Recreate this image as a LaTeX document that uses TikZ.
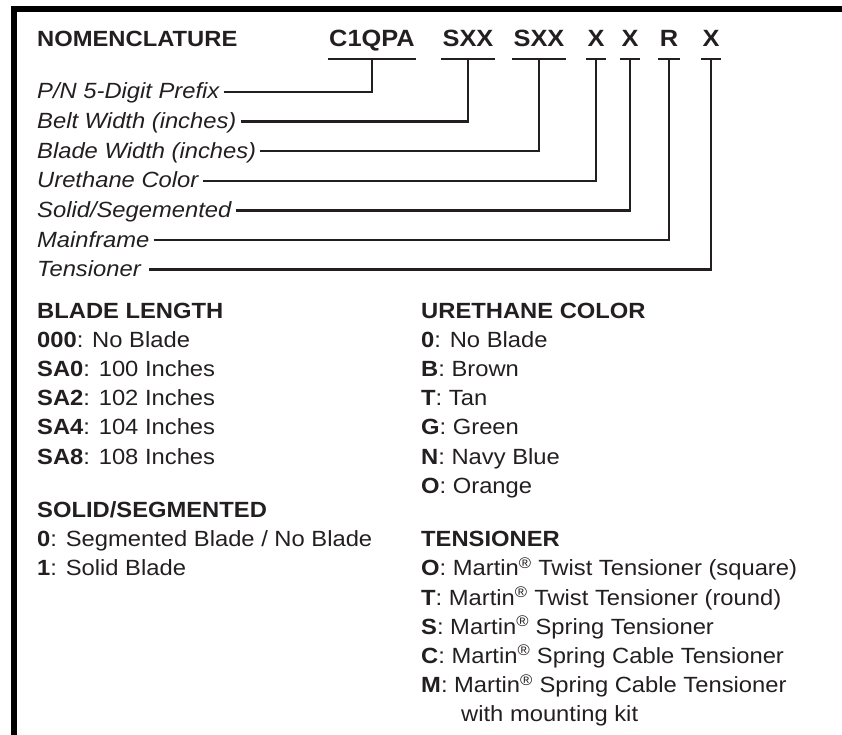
\documentclass[tikz,border=0pt]{standalone}
\usepackage{fontspec}
\setmainfont{Liberation Sans}[FakeStretch=1.08]
\usepackage{tikz}
\usetikzlibrary{positioning}
\definecolor{ink}{HTML}{231F20}
\newcommand{\regmark}{\textsuperscript{\textregistered}}
\newcommand{\bodyfont}{\fontsize{22}{29}\selectfont}

\begin{document}
\begin{tikzpicture}[
x=1pt,y=-1pt,
node distance=8.8pt and 0pt,
  every node/.style={text=ink,font=\bodyfont},
  item/.style={inner sep=0pt,text height=15.5pt,text depth=4.5pt},
  head/.style={item,font=\bodyfont\bfseries},
  code/.style={font=\fontsize{23.5}{29}\selectfont\bfseries,inner xsep=1.5pt,inner ysep=0pt,anchor=base},
  lbl/.style={item,inner xsep=4pt,font=\bodyfont\itshape},
  bar/.style={draw=ink,line width=2.6pt},
  lead/.style={draw=ink,line width=2.3pt}
]
\useasboundingbox (0,0) rectangle (842,735);
\draw[line width=6pt] (14,735) -- (14,9) -- (842,9);

% part number
\node[head,anchor=base west] (nom) at (37,47) {NOMENCLATURE};
\node[code] (c1) at (372,47) {C1QPA};
\node[code] (c2) at (468,47) {SXX};
\node[code] (c3) at (539,47) {SXX};
\node[code] (c4) at (596,47) {X};
\node[code] (c5) at (630,47) {X};
\node[code] (c6) at (669,47) {R};
\node[code] (c7) at (711,47) {X};
\foreach \c in {c1,c2,c3,c4,c5,c6,c7}
  \draw[bar] ([yshift=-12pt]\c.base west) -- ([yshift=-12pt]\c.base east);

% labels
\node[lbl,anchor=base west] (pn) at (33,99) {P/N 5-Digit Prefix};
\node[lbl,below=9.2pt of pn.south west,anchor=north west] (belt) {Belt Width (inches)};
\node[lbl,below=9.2pt of belt.south west,anchor=north west] (blade) {Blade Width (inches)};
\node[lbl,below=9.2pt of blade.south west,anchor=north west] (color) {Urethane Color};
\node[lbl,below=9.2pt of color.south west,anchor=north west] (seg) {Solid/Segemented};
\node[lbl,below=9.2pt of seg.south west,anchor=north west] (frame) {Mainframe};
\node[lbl,below=9.2pt of frame.south west,anchor=north west] (tens) {Tensioner};
\draw[lead] ([yshift=7pt]pn.base east) -| ([yshift=-12pt]c1.base);
\draw[lead] ([yshift=7pt]belt.base east) -| ([yshift=-12pt]c2.base);
\draw[lead] ([yshift=7pt]blade.base east) -| ([yshift=-12pt]c3.base);
\draw[lead] ([yshift=7pt]color.base east) -| ([yshift=-12pt]c4.base);
\draw[lead] ([yshift=7pt]seg.base east) -| ([yshift=-12pt]c5.base);
\draw[lead] ([yshift=7pt]frame.base east) -| ([yshift=-12pt]c6.base);
\draw[lead] ([xshift=4pt,yshift=7pt]tens.base east) -| ([yshift=-12pt]c7.base);

% left column
\node[head,anchor=base west] (blen) at (37,318) {BLADE LENGTH};
\node[item,below=of blen.south west,anchor=north west] (bl0) {\textbf{000}: No Blade};
\node[item,below=of bl0.south west,anchor=north west] (sa0) {\textbf{SA0}: 100 Inches};
\node[item,below=of sa0.south west,anchor=north west] (sa2) {\textbf{SA2}: 102 Inches};
\node[item,below=of sa2.south west,anchor=north west] (sa4) {\textbf{SA4}: 104 Inches};
\node[item,below=of sa4.south west,anchor=north west] (sa8) {\textbf{SA8}: 108 Inches};
\node[head,below=33pt of sa8.south west,anchor=north west] (solid) {SOLID/SEGMENTED};
\node[item,below=of solid.south west,anchor=north west] (sd0) {\textbf{0}: Segmented Blade / No Blade};
\node[item,below=of sd0.south west,anchor=north west] (sd1) {\textbf{1}: Solid Blade};

% right column
\node[head,anchor=base west] (ucol) at (421,318) {URETHANE COLOR};
\node[item,below=of ucol.south west,anchor=north west] (u0) {\textbf{0}: No Blade};
\node[item,below=of u0.south west,anchor=north west] (ub) {\textbf{B}: Brown};
\node[item,below=of ub.south west,anchor=north west] (ut) {\textbf{T}: Tan};
\node[item,below=of ut.south west,anchor=north west] (ug) {\textbf{G}: Green};
\node[item,below=of ug.south west,anchor=north west] (un) {\textbf{N}: Navy Blue};
\node[item,below=of un.south west,anchor=north west] (uo) {\textbf{O}: Orange};
\node[head,below=33pt of uo.south west,anchor=north west] (tn) {TENSIONER};
\node[item,below=of tn.south west,anchor=north west] (to) {\textbf{O}: Martin\regmark{} Twist Tensioner (square)};
\node[item,below=of to.south west,anchor=north west] (tt) {\textbf{T}: Martin\regmark{} Twist Tensioner (round)};
\node[item,below=of tt.south west,anchor=north west] (ts) {\textbf{S}: Martin\regmark{} Spring Tensioner};
\node[item,below=of ts.south west,anchor=north west] (tc) {\textbf{C}: Martin\regmark{} Spring Cable Tensioner};
\node[item,below=of tc.south west,anchor=north west] (tm) {\textbf{M}: Martin\regmark{} Spring Cable Tensioner};
\node[item,below=of tm.south west,anchor=north west,xshift=40pt] (kit) {with mounting kit};
\end{tikzpicture}
\end{document}
